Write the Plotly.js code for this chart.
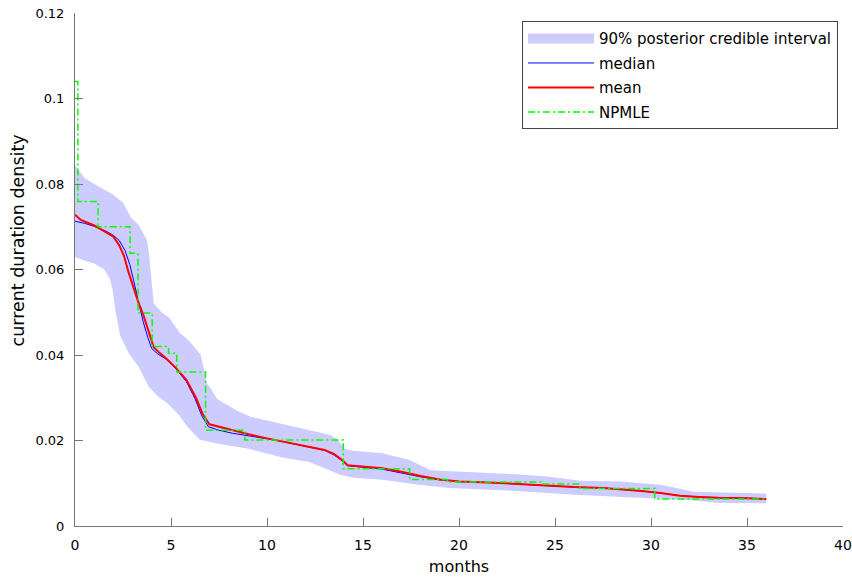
<!DOCTYPE html>
<html>
<head>
<meta charset="utf-8">
<script src="https://cdn.plot.ly/plotly-3.0.1.min.js"></script>
<style>html,body{margin:0;padding:0;background:#fff;}#chart{width:852px;height:578px;}</style>
</head>
<body>
<div id="chart"></div>
<script>
// 90% posterior credible interval: upper edge
const bandUpperX = [0, 0.5, 1.2, 1.9, 2.5, 2.9, 3.3, 3.75, 3.87, 4.0, 4.1, 4.5, 4.9, 5.45, 5.9, 6.2, 6.55, 6.7, 6.86, 7.1, 7.4, 7.6, 8.4, 9.1, 10.0, 11.0, 12.0, 13.3, 13.7, 14.06, 14.5, 16.0, 17.4, 18.5, 19.0, 20.75, 23.0, 24.7, 26.3, 28.4, 29.4, 30.6, 32.2, 33.6, 36.0];
const bandUpperY = [0.0844, 0.0814, 0.0795, 0.0778, 0.0757, 0.0722, 0.0705, 0.0669, 0.0630, 0.0575, 0.0521, 0.0500, 0.0488, 0.0452, 0.0435, 0.0420, 0.0400, 0.0370, 0.0334, 0.0320, 0.0297, 0.0292, 0.0271, 0.0256, 0.0247, 0.0236, 0.0226, 0.0213, 0.0201, 0.0180, 0.0176, 0.0170, 0.0155, 0.0131, 0.0129, 0.0126, 0.0121, 0.0115, 0.0106, 0.0104, 0.0100, 0.0096, 0.0080, 0.0078, 0.0076];
// 90% posterior credible interval: lower edge
const bandLowerX = [0, 0.4, 1.0, 1.5, 1.8, 1.95, 2.1, 2.35, 2.8, 3.3, 3.85, 4.4, 4.8, 5.45, 5.85, 6.5, 7.4, 9.1, 10.8, 12.2, 13.0, 13.8, 14.5, 16.0, 17.8, 19.5, 22.5, 26.0, 28.4, 29.4, 31.9, 33.6, 36.0];
const bandLowerY = [0.0630, 0.0622, 0.0614, 0.0601, 0.0580, 0.0555, 0.0505, 0.0445, 0.0404, 0.0373, 0.0325, 0.0300, 0.0288, 0.0258, 0.0232, 0.0202, 0.0193, 0.0180, 0.0160, 0.0150, 0.0135, 0.0120, 0.0113, 0.0108, 0.0097, 0.0089, 0.0083, 0.0073, 0.0069, 0.0066, 0.0061, 0.0054, 0.0053];

// posterior median
const medianX = [0, 0.5, 1.0, 1.6, 2.0, 2.3, 2.6, 2.85, 3.05, 3.3, 3.55, 3.8, 4.0, 4.3, 4.75, 5.25, 5.8, 6.25, 6.6, 6.95, 7.5, 8.2, 9.0, 10.0, 11.0, 12.0, 13.0, 13.5, 13.9, 14.2, 15.0, 16.0, 17.0, 18.0, 19.0, 20.0, 21.5, 23.0, 24.5, 26.0, 27.5, 28.5, 29.5, 30.5, 31.5, 32.5, 33.5, 35.0, 36.0];
const medianY = [0.0713, 0.0708, 0.0701, 0.0690, 0.0680, 0.0668, 0.0645, 0.0612, 0.0575, 0.0528, 0.0478, 0.0440, 0.0415, 0.0403, 0.0390, 0.0368, 0.0338, 0.0298, 0.0258, 0.0232, 0.0224, 0.0217, 0.0212, 0.0204, 0.0196, 0.0187, 0.0177, 0.0166, 0.0153, 0.0141, 0.0138, 0.0133, 0.0124, 0.0115, 0.0108, 0.0104, 0.0102, 0.0098, 0.0095, 0.0091, 0.0089, 0.0086, 0.0082, 0.0077, 0.0071, 0.0068, 0.0066, 0.0065, 0.0063];

// posterior mean
const meanX = [0, 0.3, 1.0, 1.6, 2.0, 2.3, 2.55, 2.8, 3.05, 3.3, 3.55, 3.8, 4.1, 4.4, 4.75, 5.25, 5.8, 6.3, 6.65, 7.0, 7.5, 8.0, 9.0, 10.0, 11.0, 12.0, 13.0, 13.5, 13.9, 14.2, 15.0, 16.0, 17.0, 18.0, 19.0, 20.0, 21.5, 23.0, 24.5, 26.0, 27.5, 28.5, 29.5, 30.5, 31.5, 32.5, 33.5, 35.0, 36.0];
const meanY = [0.0728, 0.0716, 0.0703, 0.0688, 0.0677, 0.0657, 0.0632, 0.0592, 0.0558, 0.0523, 0.0495, 0.0462, 0.0418, 0.0405, 0.0392, 0.0370, 0.0342, 0.0300, 0.0262, 0.0238, 0.0232, 0.0226, 0.0215, 0.0205, 0.0196, 0.0188, 0.0178, 0.0168, 0.0155, 0.0142, 0.0139, 0.0135, 0.0127, 0.0117, 0.0109, 0.0104, 0.0102, 0.0098, 0.0095, 0.0091, 0.0089, 0.0086, 0.0082, 0.0077, 0.0071, 0.0068, 0.0066, 0.0065, 0.0063];

// NPMLE step function (value holds from each x until the next)
const npmleX = [0, 0.15, 1.2, 2.87, 3.28, 4.02, 4.87, 5.3, 6.8, 8.85, 13.97, 17.43, 19.4, 24.4, 26.3, 30.2, 36.0];
const npmleY = [0.104, 0.0759, 0.0700, 0.0638, 0.0498, 0.0420, 0.0404, 0.0360, 0.0224, 0.0201, 0.0134, 0.0109, 0.0103, 0.0098, 0.0088, 0.0063, 0.0063];

// axis ticks
const xTicks = [0, 5, 10, 15, 20, 25, 30, 35, 40];
const yTicks = [0, 0.02, 0.04, 0.06, 0.08, 0.1, 0.12];
const yTickLabels = ['0', '0.02', '0.04', '0.06', '0.08', '0.1', '0.12'];

const FONT = 'DejaVu Sans, Liberation Sans, sans-serif';
const BAND = 'rgb(204,204,255)';

const traces = [
  {
    name: '90% posterior credible interval',
    x: bandUpperX.concat(bandLowerX.slice().reverse()),
    y: bandUpperY.concat(bandLowerY.slice().reverse()),
    type: 'scatter', mode: 'lines', fill: 'toself',
    fillcolor: BAND, line: {width: 0, color: BAND},
    showlegend: false, hoverinfo: 'skip'
  },
  {
    // legend entry for the band (a wide swatch), drawn outside the axes range
    name: '90% posterior credible interval',
    x: [-10, -9], y: [-1, -1], type: 'scatter', mode: 'lines',
    line: {color: BAND, width: 16}, legendgroup: 'a', hoverinfo: 'skip'
  },
  {
    name: 'median', x: medianX, y: medianY, type: 'scatter', mode: 'lines',
    line: {color: '#0000ff', width: 1}, legendgroup: 'b'
  },
  {
    name: 'mean', x: meanX, y: meanY, type: 'scatter', mode: 'lines',
    line: {color: '#ff0000', width: 2}, legendgroup: 'c'
  },
  {
    name: 'NPMLE', x: npmleX, y: npmleY, type: 'scatter', mode: 'lines',
    line: {color: '#00ff00', width: 1.5, shape: 'hv', dash: '7px,3px,2px,3px'}, legendgroup: 'd'
  }
];

const axisCommon = {
  showgrid: false, zeroline: false, showline: true, linecolor: '#777', linewidth: 1,
  ticks: 'inside', ticklen: 8, tickcolor: '#777', tickwidth: 1, mirror: false
};

const layout = {
  width: 852, height: 578,
  margin: {l: 75, r: 9, t: 13, b: 52},
  paper_bgcolor: '#fff', plot_bgcolor: '#fff',
  showlegend: true,
  font: {family: FONT, color: '#000'},
  xaxis: Object.assign({}, axisCommon, {
    range: [0, 40], tickvals: xTicks, ticktext: xTicks.map(String),
    tickfont: {family: FONT, size: 14, color: '#000'},
    ticklabelstandoff: 6,
    title: {text: 'months', font: {family: FONT, size: 16, color: '#000'}, standoff: 9}
  }),
  yaxis: Object.assign({}, axisCommon, {
    range: [0, 0.12], tickvals: yTicks, ticktext: yTickLabels,
    tickfont: {family: FONT, size: 13, color: '#000'},
    ticklabelstandoff: 7
  }),
  annotations: [{
    text: 'current duration density', textangle: -90,
    xref: 'paper', yref: 'paper', x: -0.074, y: 0.557,
    xanchor: 'center', yanchor: 'middle', showarrow: false,
    font: {family: FONT, size: 17.5, color: '#000'}
  }],
  legend: {
    x: 0.582, y: 0.984, xanchor: 'left', yanchor: 'top',
    bgcolor: '#fff', bordercolor: '#444', borderwidth: 1,
    font: {family: FONT, size: 15, color: '#000'},
    itemwidth: 66, traceorder: 'grouped', tracegroupgap: 2
  }
};

Plotly.newPlot('chart', traces, layout, {staticPlot: true, displayModeBar: false});
</script>
</body>
</html>
